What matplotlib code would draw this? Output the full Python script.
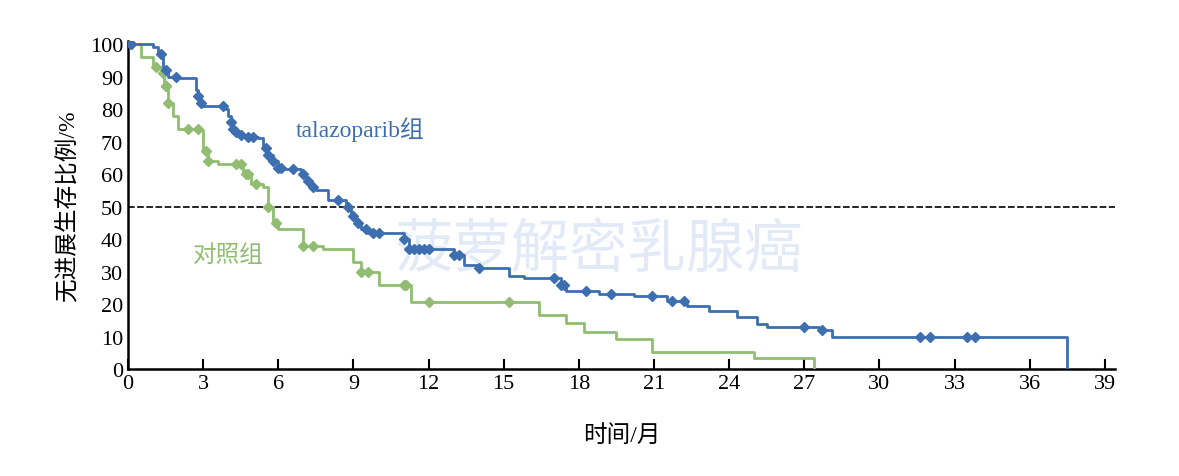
import numpy as np
import matplotlib.pyplot as plt

plt.rcParams['font.family'] = ['Liberation Serif', 'Noto Sans CJK SC']

# talazoparib arm: step times (months) and survival (%) from each step on
talazo_t = [0, 1.0, 1.2, 1.4, 1.6, 2.0, 2.7, 2.8, 2.9, 3.0, 3.9, 4.0, 4.1, 4.2, 4.3, 4.4, 4.6, 5.2,
            5.4, 5.6, 5.8, 6.0, 6.2, 6.9, 7.1, 7.3, 7.5, 8.0, 8.7, 8.9, 9.1, 9.3, 9.6, 11.0, 11.2,
            13.0, 13.4, 14.0, 15.2, 15.8, 17.3, 17.5, 18.8, 20.2, 21.5, 22.3, 23.2, 24.3, 25.1,
            25.5, 27.6, 28.1]
talazo_s = [100, 99, 97, 92, 90, 89.5, 86, 84, 82, 81, 80, 78, 76, 74, 73, 72, 71.5, 71,
            68, 66, 64, 62, 61.5, 60, 58, 56, 55, 52, 50, 47, 45, 43, 42, 40, 37,
            35, 32, 31, 28.5, 28, 26, 24, 23.2, 22.5, 21, 19.5, 17.8, 16, 14,
            13, 12, 10]
talazo_end = 37.5
talazo_cens = [0.1, 1.3, 1.5, 1.9, 2.8, 2.9, 3.8, 4.1, 4.2, 4.3, 4.5, 4.8, 5.0, 5.5, 5.6, 5.8,
               6.0, 6.1, 6.6, 7.0, 7.2, 7.4, 8.4, 8.8, 9.0, 9.2, 9.5, 9.8, 10.0, 11.0, 11.2, 11.4,
               11.6, 11.8, 12.0, 13.0, 13.2, 14.0, 17.0, 17.3, 17.4, 18.3, 19.3, 20.9, 21.7,
               22.2, 27.0, 27.7, 31.6, 32.0, 33.5, 33.8]

# control arm
ctrl_t = [0, 0.5, 1.0, 1.3, 1.45, 1.6, 1.8, 2.0, 2.9, 3.0, 3.2, 3.6, 4.6, 4.9, 5.4, 5.6, 5.8,
          6.0, 7.0, 7.8, 9.0, 9.3, 10.0, 11.3, 16.4, 17.5, 18.2, 19.5, 20.9, 25.0]
ctrl_s = [100, 96, 93, 91, 87, 82, 78, 74, 73.5, 67, 64, 63, 60, 57, 56, 50, 45,
          43, 38, 37, 33, 30, 26, 20.5, 16.6, 14.2, 11.4, 9.2, 5.2, 3.4]
ctrl_end = 27.4
ctrl_cens = [0.1, 1.1, 1.4, 1.5, 1.5, 1.6, 2.4, 2.8, 3.1, 3.2, 4.3, 4.5, 4.7, 4.8, 5.1, 5.6,
             5.9, 7.0, 7.4, 9.3, 9.6, 11.0, 11.1, 12.0, 15.2]


def surv_at(ts, ss, x):
    i = np.searchsorted(ts, x, side='right') - 1
    return ss[i]


fig = plt.figure(figsize=(11.79, 4.77), dpi=100)
ax = fig.add_axes([0.1086, 0.2243, 0.837, 0.688])

blue = '#3d6fb0'
green = '#90bd72'

for ts, ss, end, cens, col in [(ctrl_t, ctrl_s, ctrl_end, ctrl_cens, green),
                               (talazo_t, talazo_s, talazo_end, talazo_cens, blue)]:
    xs = list(ts) + [end]
    ys = list(ss) + [0]
    ax.step(xs, ys, where='post', color=col, lw=2, zorder=3)
    cy = [surv_at(ts, ss, c) for c in cens]
    ax.plot(cens, cy, 'D', color=col, ms=5, zorder=4)

ax.axhline(50, color='black', ls='--', lw=1.2, dashes=(4, 1.5), zorder=2)

ax.text(18.8, 37, '菠萝解密乳腺癌', fontsize=42, color='#c9d6f0', alpha=0.5,
        ha='center', va='center', family=['Noto Sans CJK SC'], zorder=1)
ax.text(6.7, 74, 'talazoparib组', fontsize=17, color=blue, ha='left', va='center')
ax.text(2.6, 35, '对照组', fontsize=17, color=green, ha='left', va='center')

ax.set_xlim(0, 39.4)
ax.set_ylim(0, 101)
ax.set_xticks(np.arange(0, 40, 3))
ax.set_yticks(np.arange(0, 101, 10))
ax.tick_params(direction='in', length=7, width=1.5, labelsize=16)
ax.tick_params(axis='y', length=0)
for s in ['top', 'right']:
    ax.spines[s].set_visible(False)
for s in ['left', 'bottom']:
    ax.spines[s].set_linewidth(1.8)
ax.set_xlabel('时间/月', fontsize=17, labelpad=22)
ax.set_ylabel('无进展生存比例/%', fontsize=17, labelpad=8)

fig.savefig('out.png')
